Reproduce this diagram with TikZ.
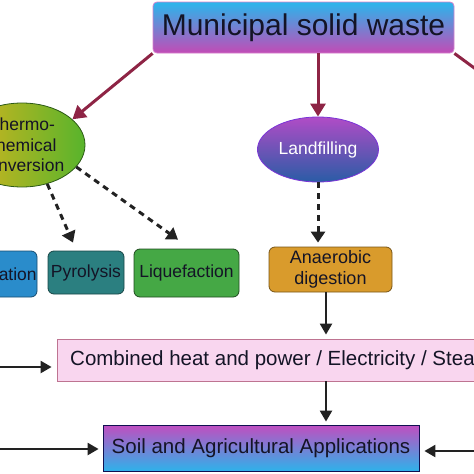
\documentclass[tikz,border=0pt]{standalone}
\usepackage{fontspec}
\setmainfont{Liberation Sans}
\usepackage{tikz}
\usetikzlibrary{arrows.meta,positioning,shapes.geometric}

\definecolor{ink}{HTML}{222222}
\definecolor{txt}{HTML}{141426}
\definecolor{maroon}{HTML}{8E2445}
\definecolor{mswtop}{HTML}{29B6EC}
\definecolor{mswbot}{HTML}{C24BB6}
\definecolor{thermoL}{HTML}{DAB41E}
\definecolor{thermoR}{HTML}{58B42C}
\definecolor{landtop}{HTML}{B04CC6}
\definecolor{landbot}{HTML}{2A5CA6}
\definecolor{gasfill}{HTML}{2A8CCB}
\definecolor{pyrofill}{HTML}{2B7F80}
\definecolor{liqfill}{HTML}{45A845}
\definecolor{anafill}{HTML}{D99B2C}
\definecolor{chpfill}{HTML}{F9D6EF}
\definecolor{soiltop}{HTML}{C04EC0}
\definecolor{soilbot}{HTML}{2EB2EA}

\begin{document}
\begin{tikzpicture}[
		x=1pt, y=-1pt,
		font=\fontsize{17.5}{20.5}\selectfont,
		box/.style={
			rectangle,
			rounded corners=6pt,
			draw,
			line width=0.8pt,
			inner sep=0pt,
			align=center,
			text=txt
		},
		blob/.style={
			ellipse,
			draw,
			line width=0.8pt,
			inner sep=0pt,
			align=center,
			text=txt
		},
		route/.style={
			draw=maroon,
			line width=3pt,
			-{Triangle[length=13pt,width=15pt]}
		},
		hint/.style={
			draw=ink,
			line width=3pt,
			dash pattern=on 6pt off 5pt,
			-{Triangle[length=11pt,width=14pt]}
		},
		flow/.style={
			draw=ink,
			line width=2.3pt,
			-{Triangle[length=11pt,width=12pt]}
		}
		]
		\useasboundingbox (0,0) rectangle (474,474);
		\clip (0,0) rectangle (474,474);
		
		% We start by placing the blocks
		\node [box, rounded corners=4pt, top color=mswtop, bottom color=mswbot, draw=mswbot!70!white,
			minimum width=301pt, minimum height=51pt, font=\fontsize{30}{36}\selectfont] (msw) at (303.5,27.5)
		{Municipal solid waste};
		
		\node [blob, left color=thermoL, right color=thermoR, draw=thermoR!50!black,
			minimum width=126pt, minimum height=84pt] (thermo) at (22,145)
		{Thermo-\\chemical\\conversion};
		
		\node [blob, top color=landtop, bottom color=landbot, draw=landtop!70!blue, text=white,
			minimum width=121pt, minimum height=65pt] (landfill) at (318,149.5)
		{Landfilling};
		
		\node [box, fill=gasfill, draw=gasfill!55!black, minimum width=92pt, minimum height=46pt] (gasif) at (-9,274)
		{Gasification};
		
		\node [box, fill=pyrofill, draw=pyrofill!55!black, minimum width=76pt, minimum height=43pt] (pyro) at (86,272.5)
		{Pyrolysis};
		
		\node [box, fill=liqfill, draw=liqfill!45!black, minimum width=105pt, minimum height=48pt] (liquef) at (186.5,273)
		{Liquefaction};
		
		\node [box, fill=anafill, draw=anafill!55!black, minimum width=123pt, minimum height=45pt,
			font=\fontsize{18}{20.5}\selectfont] (anaer) at (330.5,269.5)
		{Anaerobic\\digestion};
		
		\node [box, rounded corners=0pt, fill=chpfill, draw=chpfill!45!maroon, minimum width=448pt, minimum height=42pt,
			font=\fontsize{20.5}{24}\selectfont] (chp) at (281,360)
		{Combined heat and power / Electricity / Steam};
		
		\node [box, rounded corners=0pt, top color=soiltop, bottom color=soilbot, draw=txt!80!blue,
			minimum width=316pt, minimum height=46pt, font=\fontsize{20.5}{24}\selectfont] (soil) at (261,448)
		{Soil and Agricultural Applications};
		
		% free ends and the vertical spine
		\coordinate (spine) at (326,0);
		\coordinate (offR) at (492,81);
		\coordinate (feedA) at (-10,367);
		\coordinate (feedB) at (-10,449);
		\coordinate (feedC) at (484,451);
		
		\draw [route] (msw.south west) -- (thermo.27);
		\draw [route] (msw.south -| landfill.north) -- (landfill.north);
		\draw [route] (msw.south east) -- (offR);
		
		\draw [hint] (thermo.-57) -- ([xshift=-13pt,yshift=8pt]pyro.north);
		\draw [hint] (thermo.-22) -- ([xshift=-8.5pt,yshift=9pt]liquef.north);
		\draw [hint, shorten >=4pt] (landfill.south) -- (landfill.south |- anaer.north);
		
		\draw [flow, shorten >=4pt] (spine |- anaer.south) -- (spine |- chp.north);
		\draw [flow, shorten >=3pt] (spine |- chp.south) -- (spine |- soil.north);
		\draw [flow, shorten >=5pt] (feedA) -- (feedA -| chp.west);
		\draw [flow, shorten >=4pt] (feedB) -- (feedB -| soil.west);
		\draw [flow, shorten >=5pt] (feedC) -- (feedC -| soil.east);
		
\end{tikzpicture}
\end{document}
